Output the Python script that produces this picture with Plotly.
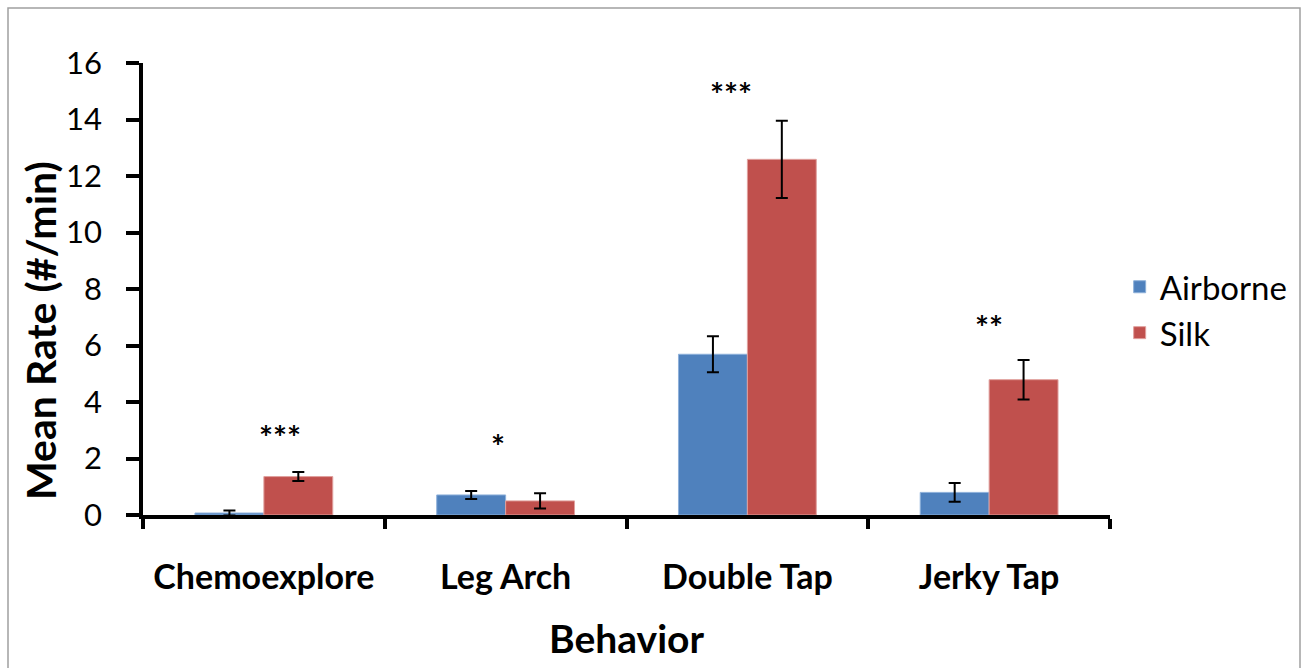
import plotly.graph_objects as go

categories = ["Chemoexplore", "Leg Arch", "Double Tap", "Jerky Tap"]
airborne = [0.07, 0.71, 5.69, 0.80]
airborne_err = [0.09, 0.14, 0.64, 0.33]
silk = [1.36, 0.50, 12.59, 4.79]
silk_err = [0.16, 0.27, 1.37, 0.70]
sig_labels = ["***", "*", "***", "**"]
sig_y = [2.75, 2.45, 14.9, 6.65]
sig_shift = [16, -8, -16, 0]

FONT = "Lato"

fig = go.Figure()
fig.add_trace(go.Bar(
    name="Airborne", x=categories, y=airborne,
    marker=dict(color="#4F81BD", line=dict(color="#8DB0DA", width=1)),
    error_y=dict(type="data", array=airborne_err, color="black", thickness=2, width=6),
))
fig.add_trace(go.Bar(
    name="Silk", x=categories, y=silk,
    marker=dict(color="#C0504D", line=dict(color="#E0A09E", width=1)),
    error_y=dict(type="data", array=silk_err, color="black", thickness=2, width=6),
))

for c, s, yv, sh in zip(categories, sig_labels, sig_y, sig_shift):
    fig.add_annotation(x=c, y=yv, text="<b>%s</b>" % s, showarrow=False, xshift=sh,
                       font=dict(family=FONT, size=33, color="black"))

# y-axis title (placed as annotation to match original offset)
fig.add_annotation(xref="paper", yref="paper", x=(40 - 143) / 967, y=(515 - 331) / 452,
                   text="<b>Mean Rate (#/min)</b>", textangle=-90, showarrow=False,
                   xanchor="center", yanchor="middle",
                   font=dict(family=FONT, size=41, color="black"))

fig.add_shape(type="rect", xref="paper", yref="paper",
              x0=(8 - 143) / 967, x1=(1300 - 143) / 967,
              y0=(515 - 700) / 452, y1=(515 - 8) / 452,
              line=dict(color="#A0A0A0", width=1.5), layer="below")

fig.update_layout(
    width=1316, height=668,
    margin=dict(l=143, r=206, t=63, b=153),
    paper_bgcolor="white", plot_bgcolor="white",
    barmode="group", bargap=0.43, bargroupgap=0,
    font=dict(family=FONT, color="black"),
    legend=dict(x=1.01, y=0.454, xanchor="left", yanchor="middle",
                font=dict(family=FONT, size=33, color="black"),
                itemwidth=30, tracegroupgap=0),
    xaxis=dict(
        title=dict(text="<b>Behavior</b>", font=dict(family=FONT, size=39), standoff=32),
        tickfont=dict(family=FONT, size=34),
        tickvals=categories, ticktext=["<b>%s</b>" % c for c in categories],
        showline=True, linecolor="black", linewidth=3.5,
        ticks="outside", tickson="boundaries", ticklen=10, tickwidth=3.5, tickcolor="black",
        ticklabelstandoff=29,
        showgrid=False, zeroline=False,
    ),
    yaxis=dict(
        range=[0, 16], dtick=2, tickfont=dict(family=FONT, size=31),
        showline=True, linecolor="black", linewidth=3.5,
        ticks="outside", ticklen=13, tickwidth=3.5, tickcolor="black",
        ticklabelstandoff=18,
        showgrid=False, zeroline=False,
    ),
)

fig.write_html("out.html")
